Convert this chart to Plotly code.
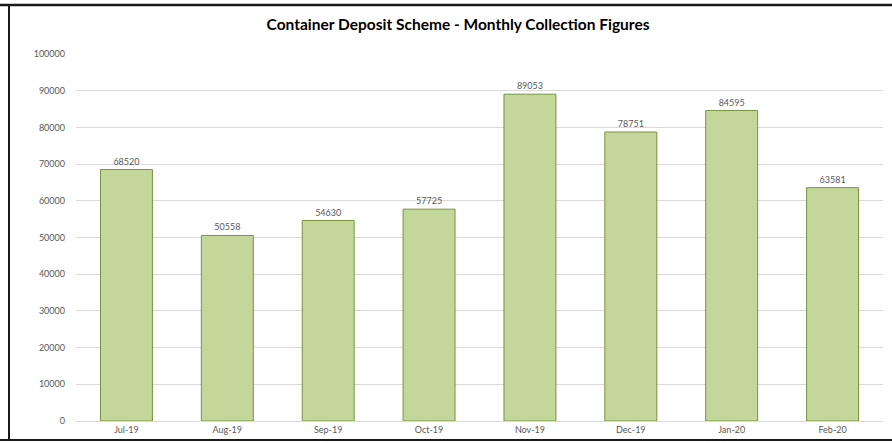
import plotly.graph_objects as go

months = ["Jul-19", "Aug-19", "Sep-19", "Oct-19", "Nov-19", "Dec-19", "Jan-20", "Feb-20"]
collections = [68520, 50558, 54630, 57725, 89053, 78751, 84595, 63581]
y_ticks = [0, 10000, 20000, 30000, 40000, 50000, 60000, 70000, 80000, 90000, 100000]

W, H = 892, 443
L, R, T, B = 76, 9, 54, 22
pw, ph = W - L - R, H - T - B

fig = go.Figure(go.Bar(
    x=months, y=collections,
    marker=dict(color="#C4D79B", line=dict(color="#77933C", width=1)),
    text=[str(v) for v in collections],
    textposition="outside",
    textfont=dict(family="Lato, Open Sans, sans-serif", size=9, color="#595959"),
    cliponaxis=False,
))

def px_x(x):
    return (x - L) / pw

def px_y(y):
    return (H - B - y) / ph

border = dict(color="#1a1a1a", width=2)
fig.update_layout(
    width=W, height=H,
    margin=dict(l=L, r=R, t=T, b=B),
    paper_bgcolor="white", plot_bgcolor="white",
    bargap=0.485,
    showlegend=False,
    title=dict(text="<b>Container Deposit Scheme - Monthly Collection Figures</b>",
               x=0.5135, xanchor="center", y=1 - 25 / H, yanchor="middle",
               font=dict(family="Lato, Open Sans, sans-serif", size=15.5, color="#000000")),
    font=dict(family="Lato, Open Sans, sans-serif", size=9, color="#595959"),
    xaxis=dict(showgrid=False, showline=True, linecolor="#D9D9D9", linewidth=1,
               ticks="", tickfont=dict(size=9, color="#595959")),
    yaxis=dict(range=[0, 100000], tickvals=y_ticks, ticktext=[str(v) for v in y_ticks],
               showgrid=True, gridcolor="#D9D9D9", gridwidth=1, zeroline=False,
               showline=False, ticks="", ticklabelstandoff=10,
               tickfont=dict(size=9, color="#595959")),
    shapes=[
        dict(type="line", xref="paper", yref="paper", x0=px_x(0), x1=px_x(892),
             y0=px_y(5), y1=px_y(5), line=dict(color="#1a1a1a", width=2.5), layer="above"),
        dict(type="line", xref="paper", yref="paper", x0=px_x(0), x1=px_x(892),
             y0=px_y(440), y1=px_y(440), line=border, layer="above"),
        dict(type="line", xref="paper", yref="paper", x0=px_x(9), x1=px_x(9),
             y0=px_y(4), y1=px_y(441), line=border, layer="above"),
    ],
)

fig.write_html("out.html", config={"displayModeBar": False},
               post_script="document.body.style.margin='0';document.body.style.overflow='hidden';")
